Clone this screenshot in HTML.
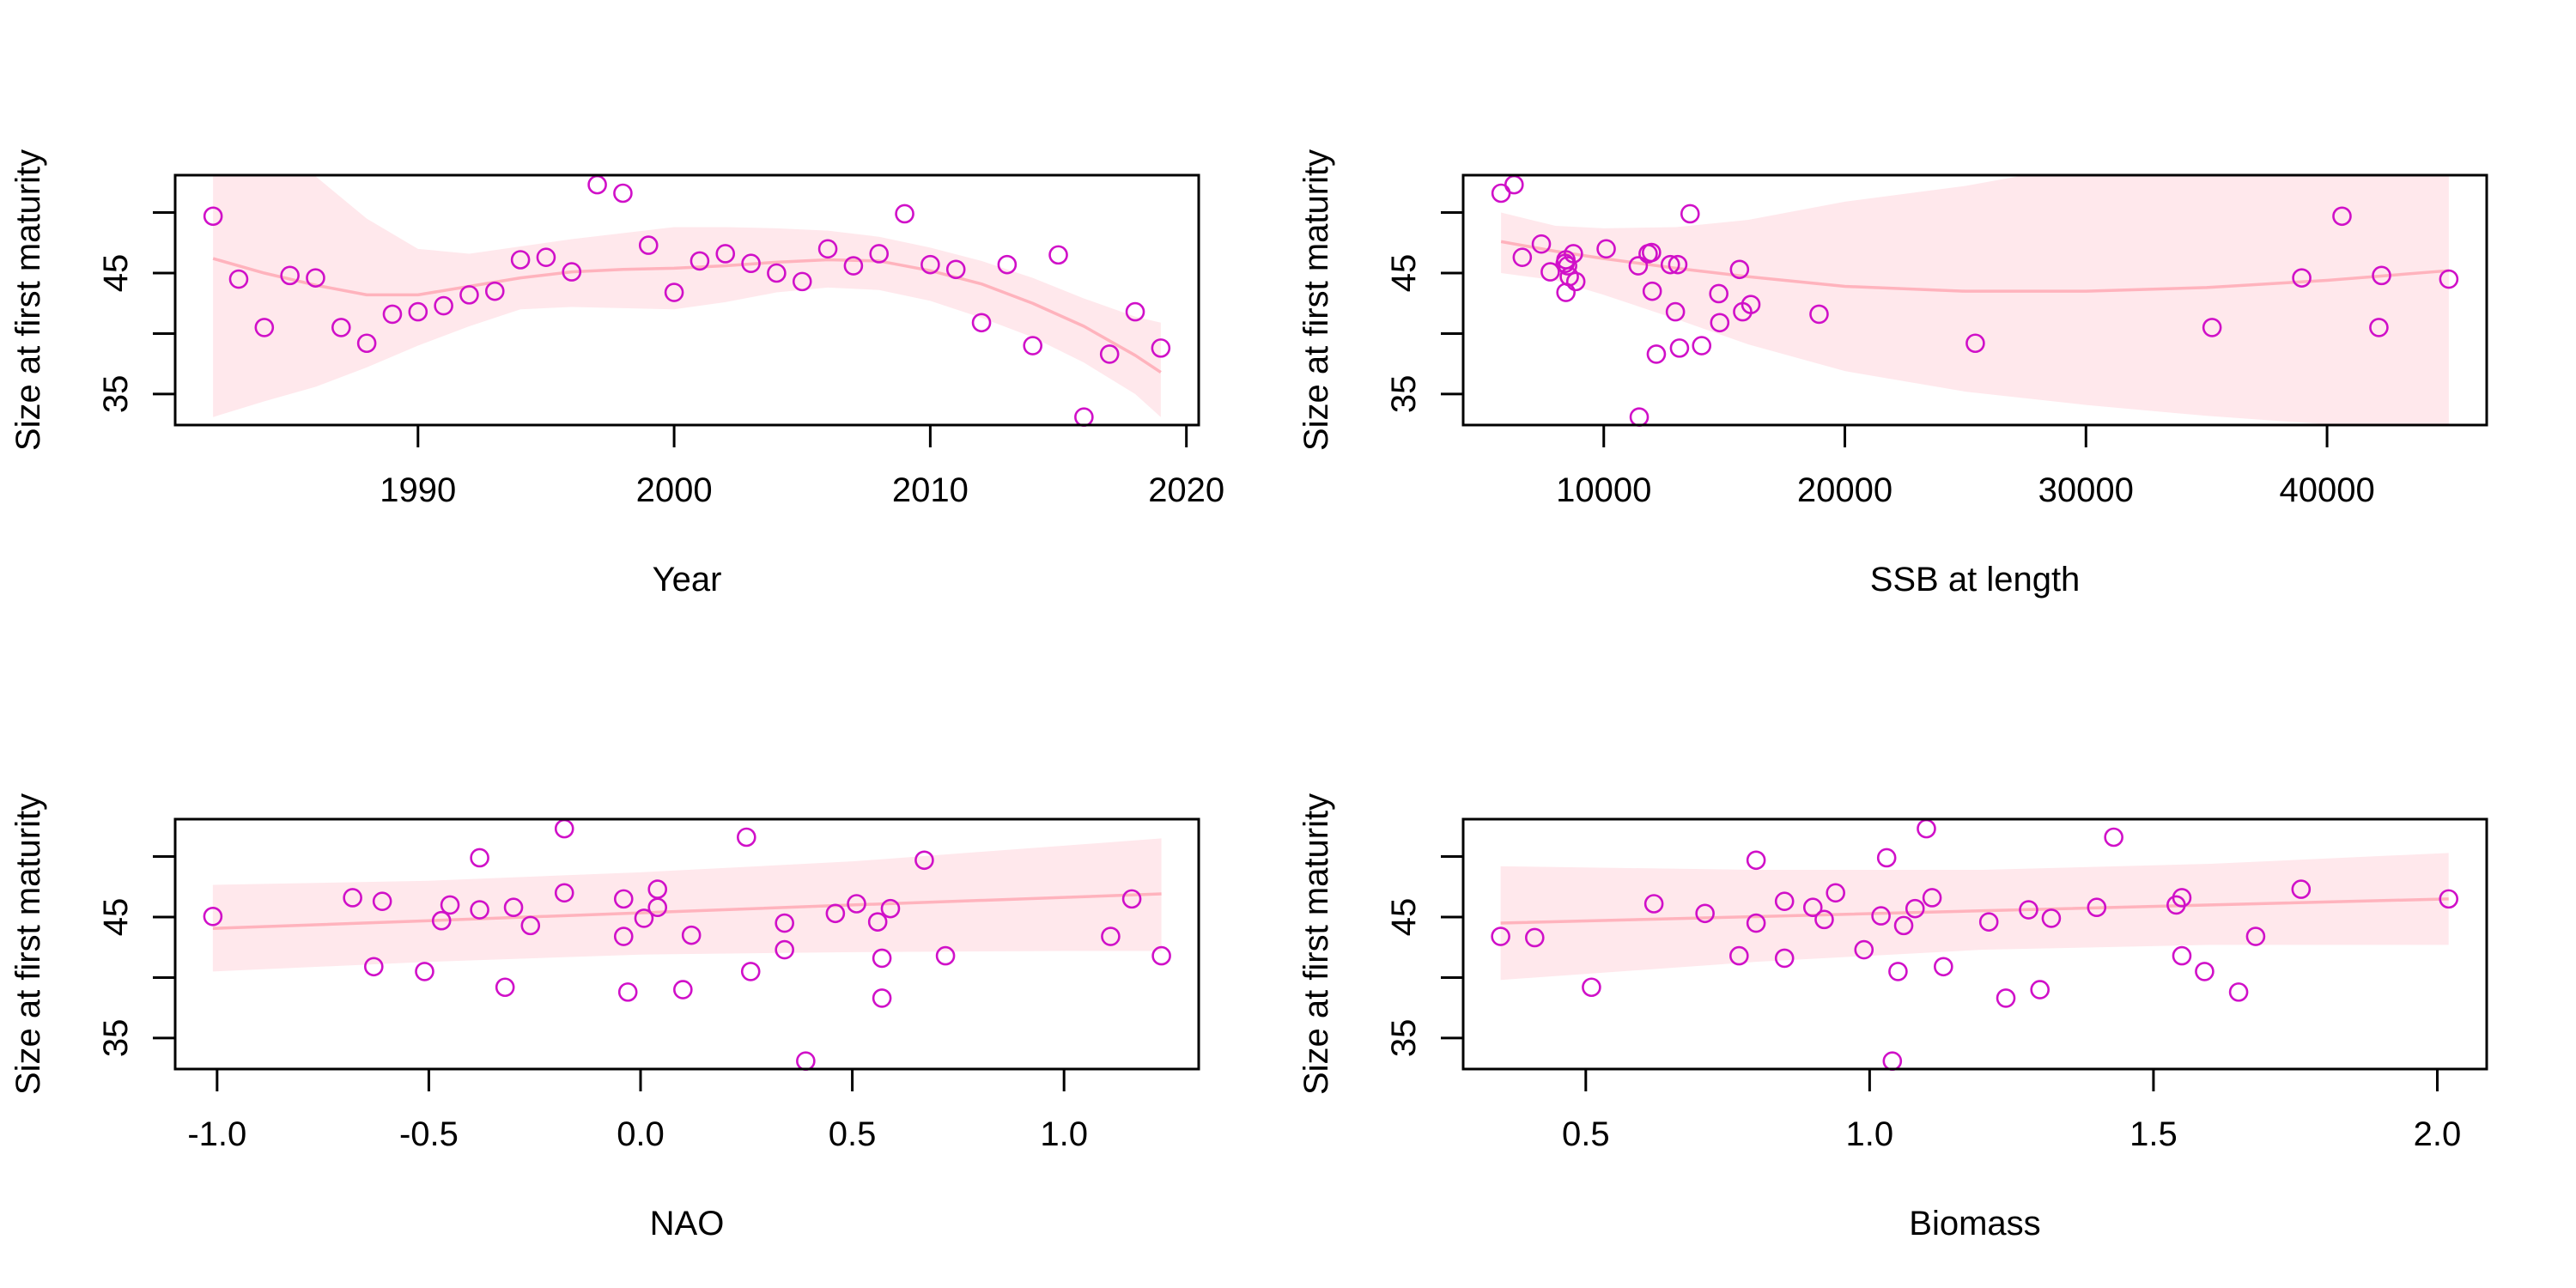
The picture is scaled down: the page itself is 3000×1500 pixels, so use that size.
<!DOCTYPE html>
<html><head><meta charset="utf-8"><style>
html,body{margin:0;padding:0;background:#fff}
svg{display:block}
text{font-family:"Liberation Sans",Arial,sans-serif;fill:#000}
</style></head><body>
<svg id="chart" width="3000" height="1500" viewBox="0 0 3000 1500" xmlns="http://www.w3.org/2000/svg"></svg>
<script>
// ---- shared y data (size at first maturity) ----
const yTicks = [35, 40, 45, 50];
const yTickLabels = ["35", "", "45", ""];

// ---- Panel 1: Year ----
const yearX = [1982,1983,1984,1985,1986,1987,1988,1989,1990,1991,1992,1993,1994,1995,1996,1997,1998,1999,2000,2001,2002,2003,2004,2005,2006,2007,2008,2009,2010,2011,2012,2013,2014,2015,2016,2017,2018,2019];
const yearY = [49.7,44.5,40.5,44.8,44.6,40.5,39.2,41.6,41.8,42.3,43.2,43.5,46.1,46.3,45.1,52.3,51.6,47.3,43.4,46.0,46.6,45.8,45.0,44.3,47.0,45.6,46.6,49.9,45.7,45.3,40.9,45.7,39.0,46.5,33.1,38.3,41.8,38.8];
const yearFitX = [1982,1984,1986,1988,1990,1992,1994,1996,1998,2000,2002,2004,2006,2008,2010,2012,2014,2016,2018,2019];
const yearFit = [46.2,45.0,44.0,43.2,43.2,43.9,44.6,45.1,45.3,45.4,45.6,45.9,46.1,46.0,45.2,44.1,42.5,40.6,38.2,36.8];
const yearUpper = [58,56,53.0,49.5,47.0,46.6,47.2,47.8,48.3,48.8,48.8,48.7,48.5,48.0,47.1,46.0,44.6,42.9,41.4,40.9];
const yearLower = [33.1,34.4,35.6,37.2,39.0,40.6,42.0,42.2,42.1,42.0,42.6,43.4,43.8,43.6,42.7,41.3,39.7,37.6,35.0,33.1];
const yearTicks = [1990,2000,2010,2020];
const yearTickLabels = ["1990","2000","2010","2020"];

// ---- Panel 2: SSB ----
const ssbX = [5740,6280,6620,7410,7780,8430,8400,8430,8570,8740,8840,8500,10100,11430,11470,11840,11980,12010,12180,12760,13070,12970,13140,13580,14060,14770,14810,15630,15760,16100,18930,25410,35230,38950,40620,42150,42260,45050];
const ssbY = [51.6,52.3,46.3,47.4,45.1,46.1,45.8,43.4,44.7,46.6,44.3,45.6,47.0,45.6,33.1,46.6,46.7,43.5,38.3,45.7,45.7,41.8,38.8,49.9,39.0,43.3,40.9,45.3,41.8,42.4,41.6,39.2,40.5,44.6,49.7,40.5,44.8,44.5];
const ssbFitX = [5740,8000,10000,13000,16000,20000,25000,30000,35000,40000,45050];
const ssbFit = [47.6,46.8,46.2,45.4,44.7,43.9,43.5,43.5,43.8,44.4,45.2];
const ssbUpper = [50.0,48.9,48.7,48.8,49.4,50.9,52.2,54,56,58,60];
const ssbLower = [45.0,44.4,43.2,41.2,39.1,36.9,35.2,34.1,33.2,32.5,32.2];
const ssbTicks = [10000,20000,30000,40000];
const ssbTickLabels = ["10000","20000","30000","40000"];

// ---- Panel 3: NAO ----
const naoX = [-1.01,-0.68,-0.63,-0.61,-0.51,-0.47,-0.45,-0.38,-0.38,-0.32,-0.30,-0.26,-0.18,-0.18,-0.04,-0.04,-0.03,0.008,0.04,0.04,0.10,0.12,0.25,0.26,0.34,0.34,0.39,0.46,0.51,0.56,0.57,0.57,0.59,0.67,0.72,1.11,1.16,1.23];
const naoY = [45.05,46.6,40.9,46.3,40.5,44.7,46.0,49.9,45.6,39.2,45.8,44.3,52.3,47.0,46.5,43.4,38.8,44.9,45.8,47.3,39.0,43.5,51.6,40.5,44.5,42.3,33.1,45.3,46.1,44.6,41.6,38.3,45.7,49.7,41.8,43.4,46.5,41.8];
const naoFitX = [-1.01,-0.5,0,0.5,1.0,1.23];
const naoFit = [44.06,44.7,45.35,46.0,46.62,46.92];
const naoUpper = [47.66,48.0,48.7,49.6,50.9,51.5];
const naoLower = [40.5,41.3,41.9,42.1,42.2,42.2];
const naoTicks = [-1.0,-0.5,0.0,0.5,1.0];
const naoTickLabels = ["-1.0","-0.5","0.0","0.5","1.0"];

// ---- Panel 4: Biomass ----
const bioX = [0.35,0.41,0.51,0.62,0.71,0.77,0.80,0.80,0.85,0.85,0.90,0.92,0.94,0.99,1.02,1.03,1.04,1.05,1.06,1.08,1.10,1.11,1.13,1.21,1.24,1.28,1.30,1.32,1.40,1.43,1.54,1.55,1.55,1.59,1.65,1.68,1.76,2.02];
const bioY = [43.4,43.3,39.2,46.1,45.3,41.8,49.7,44.5,46.3,41.6,45.8,44.8,47.0,42.3,45.1,49.9,33.1,40.5,44.3,45.7,52.3,46.6,40.9,44.6,38.3,45.6,39.0,44.9,45.8,51.6,46.0,46.6,41.8,40.5,38.8,43.4,47.3,46.5];
const bioFitX = [0.35,0.8,1.2,1.6,2.02];
const bioFit = [44.5,45.04,45.52,46.0,46.5];
const bioUpper = [49.2,48.9,48.9,49.4,50.3];
const bioLower = [39.8,41.3,42.3,42.7,42.7];
const bioTicks = [0.5,1.0,1.5,2.0];
const bioTickLabels = ["0.5","1.0","1.5","2.0"];

const NS = "http://www.w3.org/2000/svg";
const svg = document.getElementById("chart");
function mk(tag, attrs, parent) {
  const e = document.createElementNS(NS, tag);
  for (const k in attrs) e.setAttribute(k, attrs[k]);
  (parent || svg).appendChild(e);
  return e;
}

function panel(id, ox, oy, xlim, xs, ys, fx, fit, up, lo, xt, xtl, xtitle) {
  const L = ox + 204, R = ox + 1396, T = oy + 204, B = oy + 495;
  const ylim = [32.44, 53.09];
  const sx = v => L + (v - xlim[0]) / (xlim[1] - xlim[0]) * (R - L);
  const sy = v => B - (v - ylim[0]) / (ylim[1] - ylim[0]) * (B - T);
  const g = mk("g", {});
  
  
  const cp = mk("clipPath", {id: id + "-clip"}, g);
  mk("rect", {x: L, y: T, width: R - L, height: B - T}, cp);
  let pts = [];
  for (let i = 0; i < fx.length; i++) pts.push(sx(fx[i]) + "," + sy(up[i]));
  for (let i = fx.length - 1; i >= 0; i--) pts.push(sx(fx[i]) + "," + sy(lo[i]));
  const band = mk("polygon", {points: pts.join(" "), fill: "#ffe8ec", stroke: "none", "clip-path": "url(#" + id + "-clip)"}, g);
  
  
  const lp = fx.map((v, i) => sx(v) + "," + sy(fit[i])).join(" ");
  const line = mk("polyline", {points: lp, fill: "none", stroke: "#ffb3bd", "stroke-width": 3.5, "stroke-linejoin": "round", "clip-path": "url(#" + id + "-clip)"}, g);
  
  
  for (let i = 0; i < xs.length; i++) {
    const c = mk("ellipse", {cx: sx(xs[i]), cy: sy(ys[i]), rx: 10, ry: 10, fill: "none", stroke: "#d010c8", "stroke-width": 2.6}, g);
    
    
  }
  const box = mk("rect", {x: L, y: T, width: R - L, height: B - T, fill: "none", stroke: "#000", "stroke-width": 3}, g);
  
  
  const xa = mk("g", {}, g);
  
  
  mk("line", {x1: sx(xt[0]), x2: sx(xt[xt.length - 1]), y1: B, y2: B, stroke: "#000", "stroke-width": 3}, xa);
  for (let i = 0; i < xt.length; i++) {
    mk("line", {x1: sx(xt[i]), x2: sx(xt[i]), y1: B, y2: B + 26, stroke: "#000", "stroke-width": 3}, xa);
    const t = mk("text", {x: sx(xt[i]), y: oy + 584, "text-anchor": "middle", "font-size": 40}, xa);
    t.textContent = xtl[i];
    
    
  }
  const xtT = mk("text", {x: (L + R) / 2, y: oy + 688, "text-anchor": "middle", "font-size": 40}, g);
  xtT.textContent = xtitle;
  
  
  const ya = mk("g", {}, g);
  
  
  mk("line", {x1: L, x2: L, y1: sy(yTicks[0]), y2: sy(yTicks[yTicks.length - 1]), stroke: "#000", "stroke-width": 3}, ya);
  for (let i = 0; i < yTicks.length; i++) {
    const y = sy(yTicks[i]);
    mk("line", {x1: L - 26, x2: L, y1: y, y2: y, stroke: "#000", "stroke-width": 3}, ya);
    if (yTickLabels[i]) {
      const t = mk("text", {x: ox + 148, y: y, "text-anchor": "middle", "font-size": 40, transform: "rotate(-90 " + (ox + 148) + " " + y + ")"}, ya);
      t.textContent = yTickLabels[i];
      
      
    }
  }
  const cy = (T + B) / 2;
  const yt = mk("text", {x: ox + 46, y: cy, "text-anchor": "middle", "font-size": 40, transform: "rotate(-90 " + (ox + 46) + " " + cy + ")"}, g);
  yt.textContent = "Size at first maturity";
  
  
}

panel("year", 0, 0, [1980.52, 2020.48], yearX, yearY, yearFitX, yearFit, yearUpper, yearLower, yearTicks, yearTickLabels, "Year");
panel("ssb", 1500, 0, [4168, 46622], ssbX, ssbY, ssbFitX, ssbFit, ssbUpper, ssbLower, ssbTicks, ssbTickLabels, "SSB at length");
panel("nao", 0, 750, [-1.099, 1.318], naoX, naoY, naoFitX, naoFit, naoUpper, naoLower, naoTicks, naoTickLabels, "NAO");
panel("biomass", 1500, 750, [0.284, 2.087], bioX, bioY, bioFitX, bioFit, bioUpper, bioLower, bioTicks, bioTickLabels, "Biomass");
</script>
</body></html>
